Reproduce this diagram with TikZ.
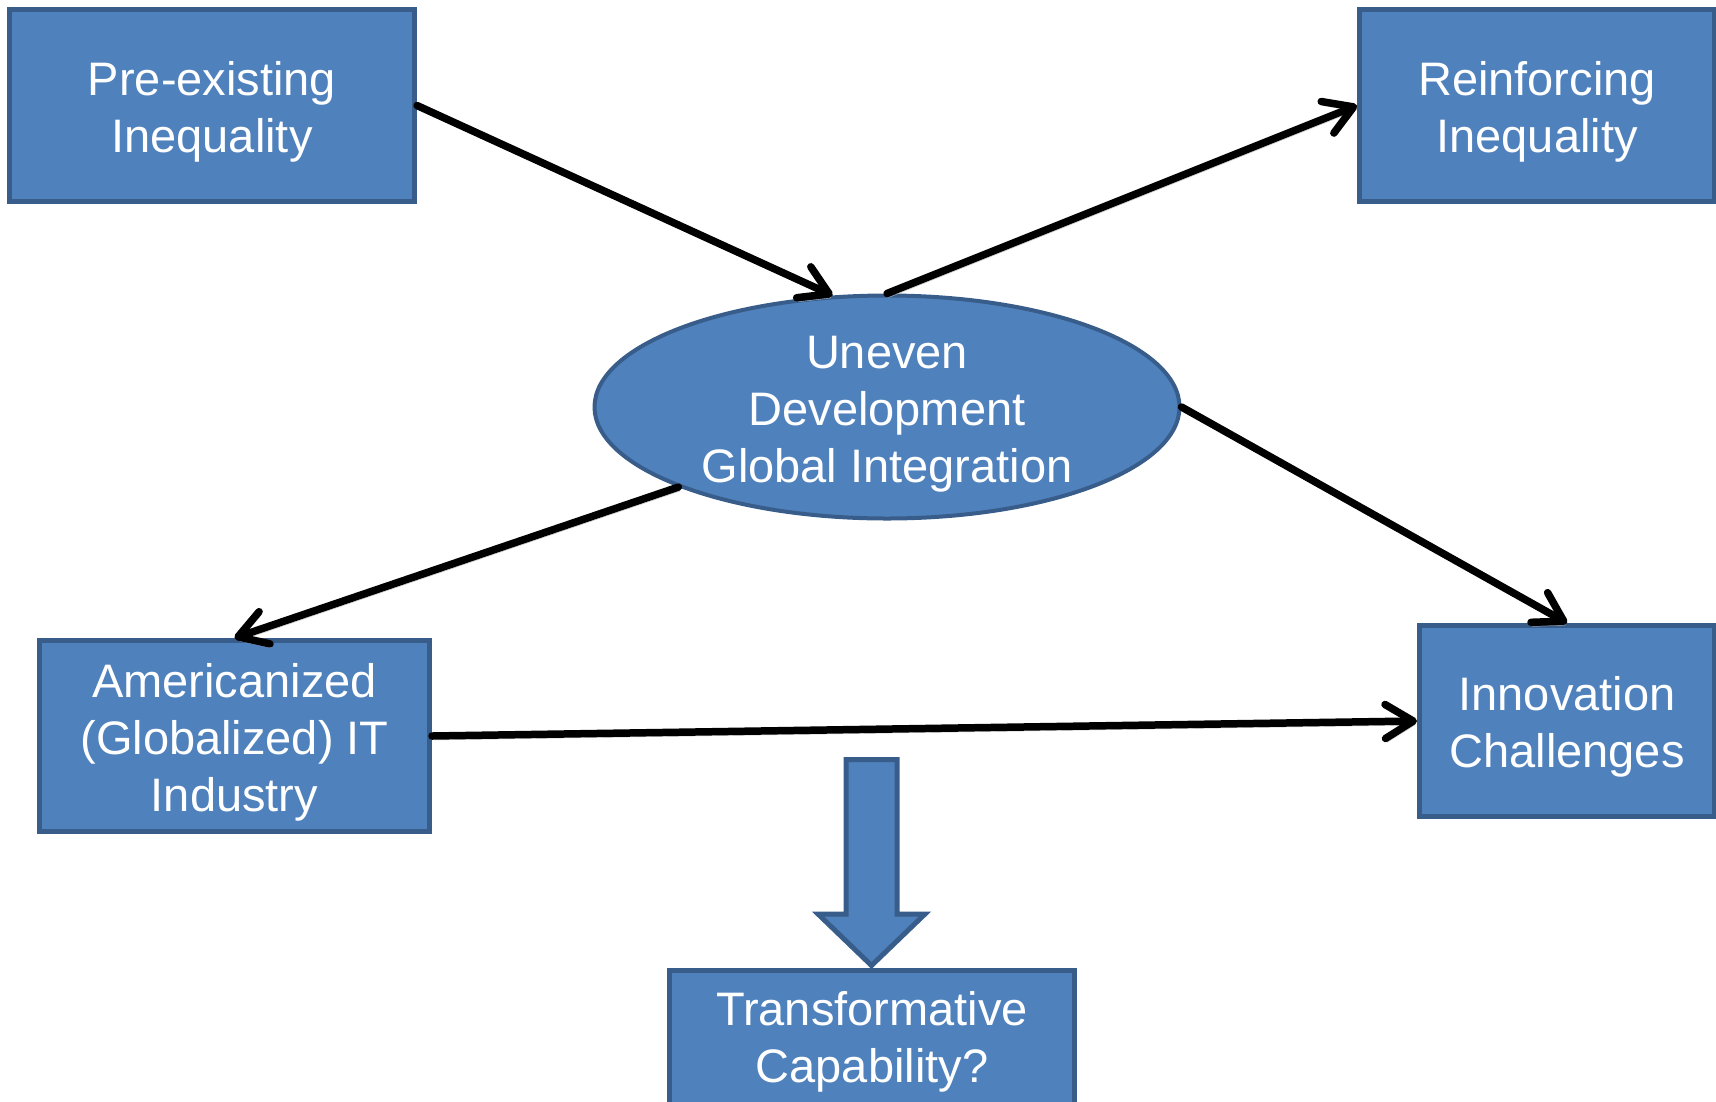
\documentclass[tikz,border=0pt]{standalone}
\usepackage{fontspec}
\setmainfont{Liberation Sans}
\usetikzlibrary{shapes.geometric,arrows.meta}
\definecolor{boxfill}{HTML}{4F81BD}
\definecolor{boxline}{HTML}{385D8A}
\begin{document}
\begin{tikzpicture}[x=1pt,y=-1pt,
  txt/.style={text=white, font=\fontsize{47}{57}\selectfont, align=center, text depth=10pt},
  two/.style={text height=103pt},
  three/.style={text height=160pt},
  box/.style={txt, draw=boxline, fill=boxfill, line width=5pt, rectangle, inner sep=0pt},
  oval/.style={txt, ellipse, draw=boxline, fill=boxfill, line width=4pt, inner xsep=0pt, inner ysep=-10pt},
  conn/.style={line width=7.5pt, draw=black, line cap=round, -{Straight Barb[length=28pt,width=34pt,round]}, preaction={draw=gray!50, transform canvas={shift={(1.5pt,-4pt)}}}},
  blockarrow/.style={draw=boxline, fill=boxfill, line width=5pt, line join=miter}
]
\useasboundingbox (0,0) rectangle (1716,1101);
\clip (0,0) rectangle (1716,1101);
\node[box, two, minimum width=405pt, minimum height=192pt] (b1) at (212,105.5) {Pre-existing\\Inequality};
\node[box, two, minimum width=355pt, minimum height=192pt] (b2) at (1537,105.5) {Reinforcing\\Inequality};
\node[oval, three, minimum width=585pt, minimum height=223pt] (e) at (887,407) {Uneven\\Development\\Global Integration};
\node[box, three, minimum width=390pt, minimum height=191pt] (a) at (234.5,736) {Americanized\\(Globalized) IT\\Industry};
\node[box, two, minimum width=295pt, minimum height=191pt] (i) at (1567,721) {Innovation\\Challenges};
\node[box, two, minimum width=405pt, minimum height=139pt, text depth=19pt] (t) at (872,1040) {Transformative\\Capability?};
\draw[blockarrow] (846,759.5) -- (897,759.5) -- (897,914) -- (925,914) -- (871.5,965.5) -- (818,914) -- (846,914) -- cycle;
\draw[conn] (b1.east) -- (e.116);
\draw[conn] (e.north) -- (b2.west);
\draw[conn] (e.201) -- (a.north);
\draw[conn] (e.east) -- (i.north);
\draw[conn] (a.east) -- (i.west);
\end{tikzpicture}
\end{document}
